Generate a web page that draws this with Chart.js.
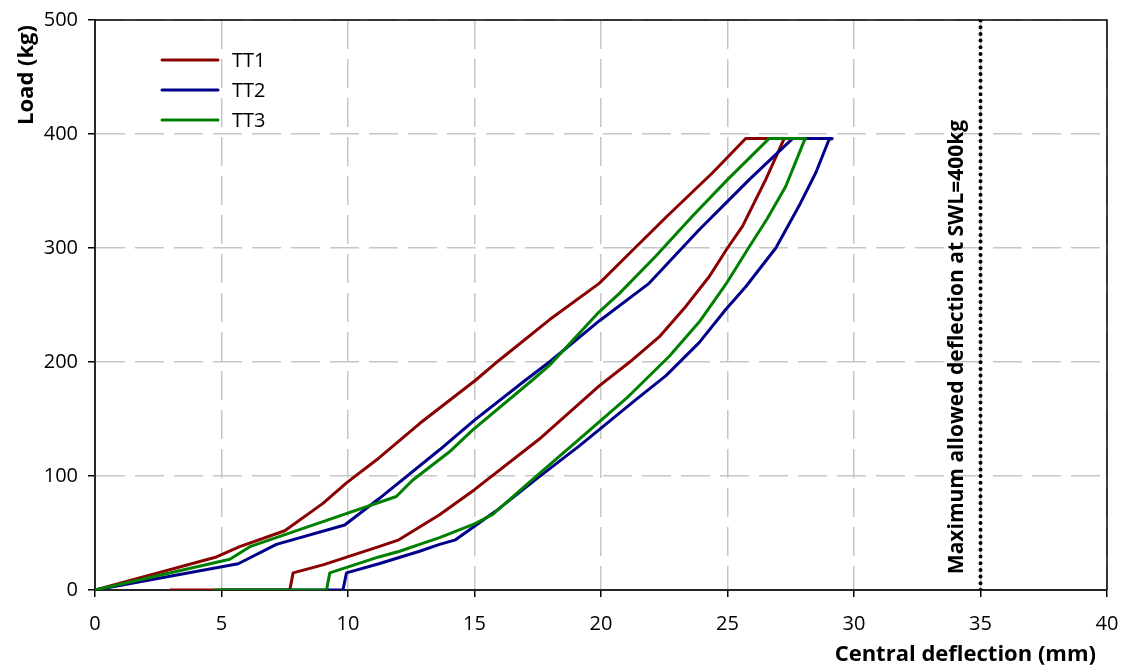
<!DOCTYPE html>
<html>
<head>
<meta charset="utf-8">
<title>Load vs central deflection</title>
<script src="https://cdn.jsdelivr.net/npm/chart.js@4/dist/chart.umd.min.js"></script>
<style>
  html, body { margin: 0; padding: 0; background: #ffffff; }
  #wrap { width: 1121px; height: 666px; position: relative; }
</style>
</head>
<body>
<div id="wrap"><canvas id="chart"></canvas></div>
<script>
// Load–deflection loops (loading branch, hold at peak, unloading branch, residual set)
const tt1Deflection = [0, 4.8, 5.72, 7.5, 9.01, 9.94, 11.12, 12.83, 15.04, 16.0, 17.96, 19.93, 21.25, 22.57, 24.41, 25.72, 27.24,
                       26.51, 25.59, 25.0, 24.28, 23.36, 22.3, 21.25, 19.93, 17.54, 15.0, 13.62, 12.67, 12.01, 11.22, 9.01, 7.83, 7.7, 2.96];
const tt1Load       = [0, 29, 38, 52, 76, 94, 114, 146, 184, 202, 237, 269, 298, 327, 366, 396, 396,
                       360, 319, 300, 275, 249, 222, 202, 179, 132, 88, 66, 53, 44, 38, 22, 15, 0, 0];

const tt2Deflection = [0, 5.66, 7.17, 9.87, 11.22, 13.62, 15.0, 17.01, 17.96, 19.93, 21.9, 23.88, 25.86, 27.57, 29.14,
                       29.01, 28.49, 27.83, 26.91, 25.72, 24.93, 23.88, 22.57, 21.38, 19.12, 17.54, 15.83, 15.0, 14.25, 13.62, 12.83, 11.22, 9.94, 9.8, 5.0];
const tt2Load       = [0, 23, 40, 57, 80, 123, 149, 184, 200, 236, 269, 316, 360, 396, 396,
                       395, 366, 337, 300, 266, 246, 217, 188, 167, 126, 99, 69, 56, 44, 40, 34, 23, 15, 0, 0];

const tt3Deflection = [0, 5.33, 6.12, 9.01, 11.91, 12.54, 14.0, 14.91, 17.28, 17.96, 19.93, 20.72, 22.17, 23.62, 25.0, 26.64, 28.09,
                       28.03, 27.3, 26.55, 25.83, 24.93, 23.88, 22.7, 21.0, 19.12, 17.14, 15.7, 15.0, 13.62, 12.83, 12.04, 11.22, 9.28, 9.15, 4.67];
const tt3Load       = [0, 27, 38, 60, 82, 96, 121, 140, 184, 197, 244, 260, 293, 328, 360, 396, 396,
                       394, 354, 325, 300, 268, 235, 205, 168, 132, 94, 66, 58, 46, 40, 34, 29, 15, 0, 0];

// Serviceability limit
const limitDeflection = [35, 35];
const limitLoad       = [0, 500];
const limitLabel = 'Maximum allowed deflection at SWL=400kg';

// Axes
const xTicks = [0, 5, 10, 15, 20, 25, 30, 35, 40];
const yTicks = [0, 100, 200, 300, 400, 500];
const xTitle = 'Central deflection (mm)';
const yTitle = 'Load (kg)';

const seriesNames = ['TT1', 'TT2', 'TT3'];
const seriesColors = ['#8b0000', '#00008b', '#008000'];

const FONT = '"Open Sans", "DejaVu Sans", sans-serif';

function pts(xs, ys) { return xs.map((x, i) => ({ x: x, y: ys[i] })); }

const curves = [
  pts(tt1Deflection, tt1Load),
  pts(tt2Deflection, tt2Load),
  pts(tt3Deflection, tt3Load)
];

const datasets = curves.map((data, i) => ({
  label: seriesNames[i],
  data: data,
  showLine: true,
  borderColor: seriesColors[i],
  backgroundColor: seriesColors[i],
  borderWidth: 3,
  pointRadius: 0,
  tension: 0,
  borderJoinStyle: 'round',
  order: 3 - i
}));

datasets.push({
  label: limitLabel,
  data: pts(limitDeflection, limitLoad),
  showLine: true,
  borderColor: '#000000',
  borderWidth: 4,
  borderDash: [0, 6.7],
  borderCapStyle: 'round',
  pointRadius: 0,
  order: 5
});

// Frame, axis titles, legend box and the rotated limit label
const decorations = {
  id: 'decorations',
  afterDraw(chart) {
    const ctx = chart.ctx;
    const a = chart.chartArea;
    const xs = chart.scales.x;
    ctx.save();

    // top and right frame edges
    ctx.strokeStyle = '#000';
    ctx.lineWidth = 1.5;
    ctx.beginPath();
    ctx.moveTo(a.left, a.top);
    ctx.lineTo(a.right, a.top);
    ctx.lineTo(a.right, a.bottom);
    ctx.stroke();

    // axis titles
    ctx.fillStyle = '#000';
    ctx.font = 'bold 22px ' + FONT;
    ctx.textAlign = 'right';
    ctx.textBaseline = 'middle';
    ctx.fillText(xTitle, a.right - 11, 655);

    ctx.save();
    ctx.translate(27, a.top + 5);
    ctx.rotate(-Math.PI / 2);
    ctx.textAlign = 'right';
    ctx.textBaseline = 'middle';
    ctx.fillText(yTitle, 0, 0);
    ctx.restore();

    // legend
    ctx.font = '20px ' + FONT;
    ctx.textAlign = 'left';
    ctx.textBaseline = 'middle';
    ctx.lineCap = 'round';
    seriesNames.forEach((name, i) => {
      const y = 60 + i * 30;
      ctx.strokeStyle = seriesColors[i];
      ctx.lineWidth = 3;
      ctx.beginPath();
      ctx.moveTo(162, y);
      ctx.lineTo(218, y);
      ctx.stroke();
      ctx.fillStyle = '#000';
      ctx.fillText(name, 232, y + 1);
    });

    // label alongside the limit line
    const lx = xs.getPixelForValue(limitDeflection[0]);
    ctx.save();
    ctx.translate(lx - 23, 347);
    ctx.rotate(-Math.PI / 2);
    ctx.font = 'bold 21px ' + FONT;
    ctx.textAlign = 'center';
    ctx.textBaseline = 'middle';
    ctx.fillStyle = '#000';
    ctx.fillText(limitLabel, 0, 0);
    ctx.restore();

    ctx.restore();
  }
};

const gridStyle = {
  color: '#c6c6c6',
  lineWidth: 1.5,
  tickLength: 7,
  tickColor: '#000',
  tickWidth: 1.5,
  tickBorderDash: []
};
const borderStyle = { display: true, color: '#262626', width: 2, dash: [29, 10] };

new Chart(document.getElementById('chart'), {
  type: 'scatter',
  data: { datasets: datasets },
  options: {
    responsive: true,
    maintainAspectRatio: false,
    animation: false,
    devicePixelRatio: 1,
    layout: { padding: { top: 20, right: 14, left: 0, bottom: 0 } },
    plugins: {
      legend: { display: false },
      tooltip: { enabled: false },
      title: { display: false }
    },
    scales: {
      x: {
        type: 'linear',
        min: xTicks[0],
        max: xTicks[xTicks.length - 1],
        afterFit(scale) { scale.height = 76; scale.paddingLeft = 0; scale.paddingRight = 0; },
        afterBuildTicks(scale) { scale.ticks = xTicks.map(v => ({ value: v })); },
        ticks: {
          color: '#000',
          font: { family: FONT, size: 20 },
          padding: 15,
          maxRotation: 0,
          autoSkip: false
        },
        grid: gridStyle,
        border: borderStyle
      },
      y: {
        type: 'linear',
        min: yTicks[0],
        max: yTicks[yTicks.length - 1],
        afterFit(scale) { scale.width = 95; scale.paddingTop = 0; scale.paddingBottom = 0; },
        afterBuildTicks(scale) { scale.ticks = yTicks.map(v => ({ value: v })); },
        ticks: {
          color: '#000',
          font: { family: FONT, size: 20 },
          padding: 10,
          autoSkip: false
        },
        grid: gridStyle,
        border: borderStyle
      }
    }
  },
  plugins: [decorations]
});
</script>
</body>
</html>
